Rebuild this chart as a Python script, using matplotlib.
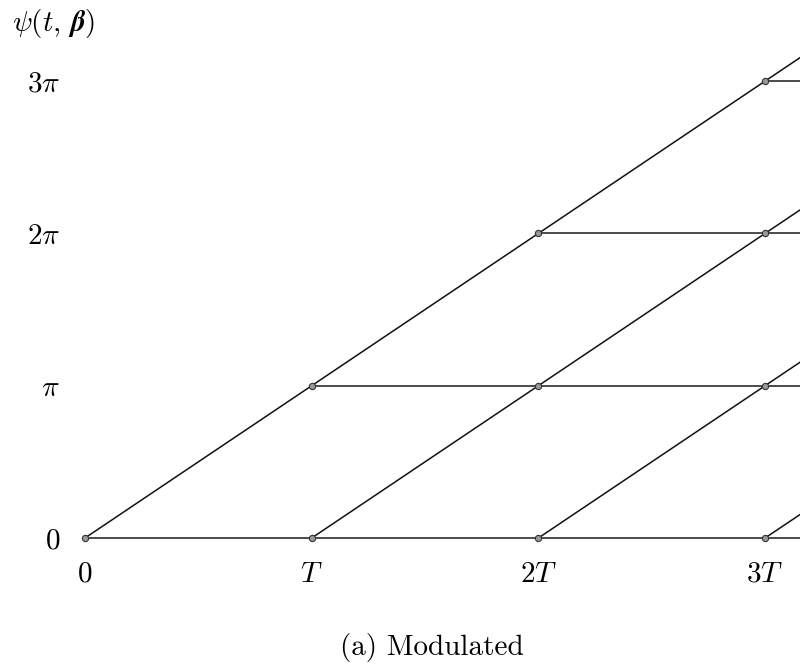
"""
Phase trellis of a modulated signal: psi(t, beta) versus time.
"""

import numpy as np
import matplotlib.pyplot as plt

plt.rcParams['mathtext.fontset'] = 'cm'
plt.rcParams['font.family'] = ['cmr10', 'DejaVu Serif']
plt.rcParams['axes.formatter.use_mathtext'] = True

# trellis structure: symbol periods (in units of T) and phase levels (in units of pi)
periods = [0, 1, 2, 3, 4]
phase_levels = [0, 1, 2, 3, 4]
x_tick_labels = ['$0$', '$T$', '$2T$', '$3T$']
y_tick_labels = ['$0$', r'$\pi$', r'$2\pi$', r'$3\pi$']
caption = '(a) Modulated'


def plot_trellis():
    fig = plt.figure(figsize=(8.0, 6.65), dpi=100)
    # axes origin sits on the (0, 0) node
    ax = fig.add_axes([85 / 800, 1 - 538 / 665, 715 / 800, 498 / 665])

    # each node (k, m) branches to (k+1, m) and (k+1, m+1)
    for k in periods[:-1]:
        for m in phase_levels:
            if m > k:
                continue
            ax.plot([periods[k], periods[k + 1]],
                    [phase_levels[m], phase_levels[m]],
                    color='#1a1a1a', lw=1.1, zorder=1, clip_on=False)
            ax.plot([periods[k], periods[k + 1]],
                    [phase_levels[m], phase_levels[m + 1]],
                    color='#111111', lw=1.1, zorder=1)
            ax.plot(periods[k], phase_levels[m], 'o', ms=4.5,
                    mfc='#999999', mec='#333333', mew=0.8,
                    zorder=3, clip_on=False)

    ax.set_xlim(0, 715 / 226.7)
    ax.set_ylim(0, 498 / 152.3)

    ax.set_xticks(periods[:4])
    ax.set_xticklabels(x_tick_labels)
    ax.set_yticks(phase_levels[:4])
    ax.set_yticklabels(y_tick_labels)
    ax.tick_params(length=0, labelsize=21)
    ax.tick_params(axis='x', pad=17)
    ax.tick_params(axis='y', pad=18)

    for spine in ax.spines.values():
        spine.set_visible(False)

    fig.text(12 / 800, 1 - 24 / 665, r'$\psi(t,\,\boldsymbol{\beta})$',
             fontsize=21, ha='left', va='center')
    fig.text(432 / 800, 1 - 647 / 665, caption,
             fontsize=21, ha='center', va='center')

    plt.savefig('out.png', dpi=100)


if __name__ == "__main__":
    plot_trellis()
